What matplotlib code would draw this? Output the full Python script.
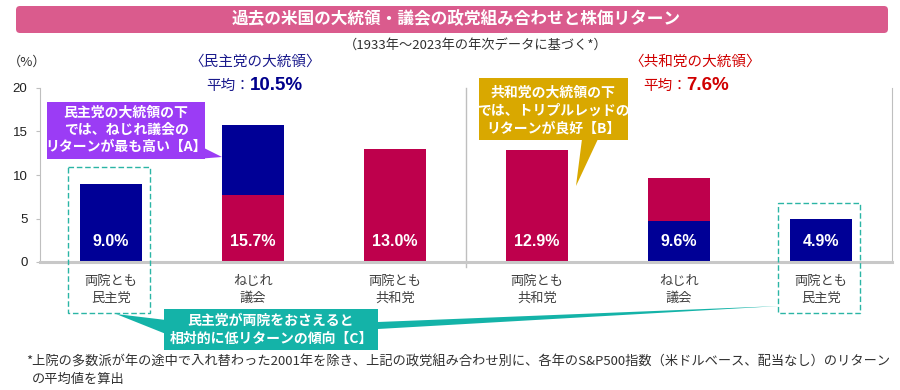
import matplotlib
matplotlib.use("Agg")
import matplotlib.pyplot as plt
from matplotlib.patches import Rectangle, Polygon, FancyBboxPatch

JP = ['Noto Sans CJK JP', 'DejaVu Sans']
plt.rcParams['font.family'] = JP

# data
categories = ['両院とも\n民主党', 'ねじれ\n議会', '両院とも\n共和党',
              '両院とも\n共和党', 'ねじれ\n議会', '両院とも\n民主党']
totals = [9.0, 15.7, 13.0, 12.9, 9.6, 4.9]
lower_vals = [9.0, 7.7, 13.0, 12.9, 4.7, 4.9]
upper_vals = [0.0, 8.0, 0.0, 0.0, 4.9, 0.0]
lower_party = ['D', 'R', 'R', 'R', 'D', 'D']
upper_party = ['D', 'D', 'R', 'R', 'R', 'D']
avg_dem = 10.5
avg_rep = 7.6
yticks = [0, 5, 10, 15, 20]

BLUE = '#000096'
RED = '#BE004C'
party_color = {'D': BLUE, 'R': RED}
GRID = '#BFBFBF'
TXT = '#404040'

W, H = 900, 390
fig = plt.figure(figsize=(W / 100, H / 100), dpi=100)
ax = fig.add_axes([40 / W, (H - 262) / H, (892 - 40) / W, (262 - 88) / H])

x = list(range(len(categories)))
ax.bar(x, lower_vals, width=0.44, color=[party_color[p] for p in lower_party], zorder=2)
ax.bar(x, upper_vals, width=0.44, bottom=lower_vals,
       color=[party_color[p] for p in upper_party], zorder=2)
for xi, t in zip(x, totals):
    ax.text(xi, 2.3, f'{t:.1f}%', ha='center', va='center', color='white',
            fontsize=11.5, fontweight='bold', family='Liberation Sans', zorder=3)

ax.set_xlim(-0.5, 5.5)
ax.set_ylim(0, 20)
ax.set_yticks(yticks)
ax.set_xticks([])
ax.tick_params(axis='y', length=3, color=GRID, labelsize=9.5, labelcolor='#202020', pad=6)
for lbl in ax.get_yticklabels():
    lbl.set_family('Liberation Sans')
for s in ['left', 'right']:
    ax.spines[s].set_color(GRID)
ax.spines['top'].set_visible(False)
ax.spines['bottom'].set_color('#C8C8C8')
ax.spines['bottom'].set_linewidth(2.2)
ax.axvline(2.5, ymin=-0.03, ymax=1, color=GRID, lw=1, clip_on=False, zorder=1)

for xi, c in zip(x, categories):
    l1, l2 = c.split('\n')
    ax.annotate(l1, (xi, 0), xytext=(0, -20), textcoords='offset pixels',
                ha='center', va='center', fontsize=9.5, color=TXT)
    ax.annotate(l2, (xi, 0), xytext=(0, -36), textcoords='offset pixels',
                ha='center', va='center', fontsize=9.5, color=TXT)

# overlay in pixel coordinates
ov = fig.add_axes([0, 0, 1, 1], zorder=5)
ov.set_xlim(0, W)
ov.set_ylim(H, 0)
ov.axis('off')
ov.patch.set_alpha(0)

ov.add_patch(FancyBboxPatch((16, 6), 872, 27, boxstyle='round,pad=0,rounding_size=4',
                            fc='#DA5B8D', ec='none'))
ov.text(456, 19.5, '過去の米国の大統領・議会の政党組み合わせと株価リターン',
        ha='center', va='center', color='white', fontsize=12, fontweight='bold')
ov.text(476, 45, '（1933年～2023年の年次データに基づく*）', ha='center', va='center',
        fontsize=9.5, color='#303030')
ov.text(8, 62, '（%）', ha='left', va='center', fontsize=9.5, color='#303030')

ov.text(255, 62, '〈民主党の大統領〉', ha='center', va='center', fontsize=10.5, color='#1A1A8C')
ov.text(206, 86, '平均：', ha='left', va='center', fontsize=10.5, color='#1A1A8C')
ov.text(250, 86, f'{avg_dem}%', ha='left', va='center', fontsize=13.5, fontweight='bold',
        color='#00008C', family='Liberation Sans')
ov.text(695, 62, '〈共和党の大統領〉', ha='center', va='center', fontsize=10.5, color='#D00000')
ov.text(643, 86, '平均：', ha='left', va='center', fontsize=10.5, color='#D00000')
ov.text(686, 86, f'{avg_rep}%', ha='left', va='center', fontsize=13.5, fontweight='bold',
        color='#D00000', family='Liberation Sans')

# callout A
PURPLE = '#9B3CF5'
ov.add_patch(Polygon([(196, 159), (204, 148), (222, 157)], fc=PURPLE, ec='none'))
ov.add_patch(Rectangle((47, 102), 158, 57, fc=PURPLE, ec='none'))
for i, s in enumerate(['民主党の大統領の下', 'では、ねじれ議会の', 'リターンが最も高い【A】']):
    ov.text(126, 113 + 17 * i, s, ha='center', va='center', color='white',
            fontsize=10, fontweight='bold')

# callout B
GOLD = '#D9A800'
ov.add_patch(Polygon([(582, 139), (598, 139), (576, 186)], fc=GOLD, ec='none'))
ov.add_patch(Rectangle((479, 78), 149, 62, fc=GOLD, ec='none'))
for i, s in enumerate(['共和党の大統領の下', 'では、トリプルレッドの', 'リターンが良好【B】']):
    ov.text(553, 93 + 18 * i, s, ha='center', va='center', color='white',
            fontsize=10, fontweight='bold')

# dashed boxes
TEAL_D = '#2BB5A5'
ov.add_patch(Rectangle((68, 167), 82, 146, fill=False, ec=TEAL_D, lw=1, ls=(0, (4, 2))))
ov.add_patch(Rectangle((778, 203), 82, 110, fill=False, ec=TEAL_D, lw=1, ls=(0, (4, 2))))

# callout C
TEAL = '#14B3A8'
ov.add_patch(Polygon([(116, 314), (166, 320), (166, 334)], fc=TEAL, ec='none'))
ov.add_patch(Polygon([(378, 322), (378, 329), (780, 306)], fc=TEAL, ec='none'))
ov.add_patch(Rectangle((164, 309), 214, 41, fc=TEAL, ec='none'))
for i, s in enumerate(['民主党が両院をおさえると', '相対的に低リターンの傾向【C】']):
    ov.text(271, 321 + 18 * i, s, ha='center', va='center', color='white',
            fontsize=10, fontweight='bold')

ov.text(26, 362, '*上院の多数派が年の途中で入れ替わった2001年を除き、上記の政党組み合わせ別に、'
        '各年のS&P500指数（米ドルベース、配当なし）のリターン',
        ha='left', va='center', fontsize=9.5, color='#303030')
ov.text(32, 379, 'の平均値を算出', ha='left', va='center', fontsize=9.5, color='#303030')

fig.savefig('out.png', dpi=100)
